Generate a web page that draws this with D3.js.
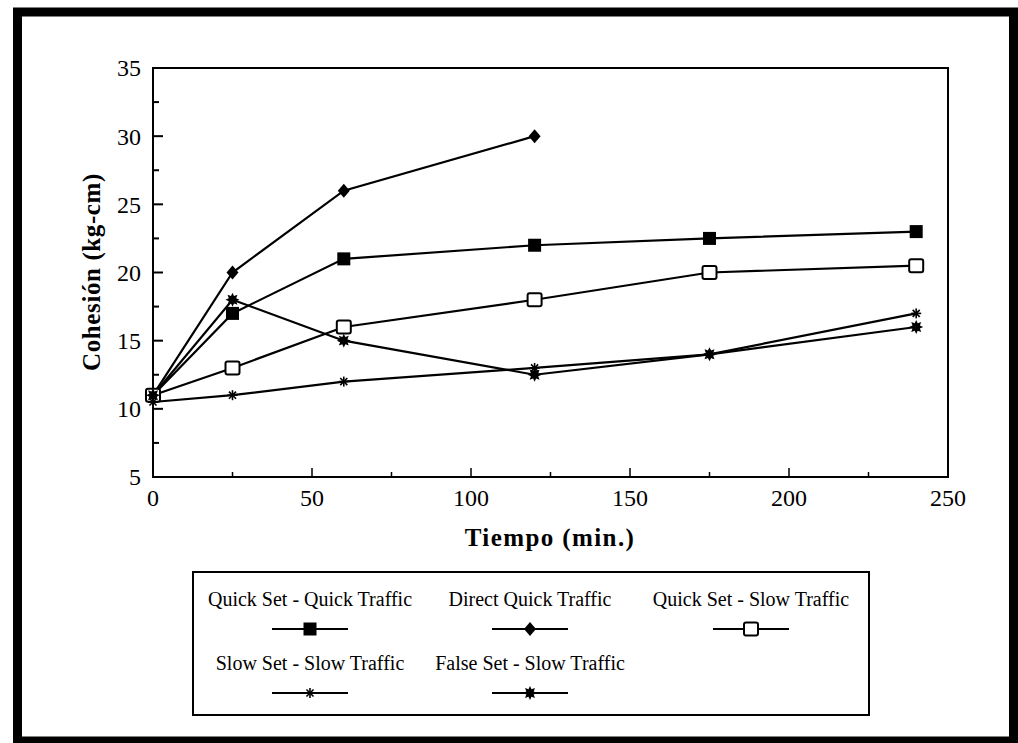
<!DOCTYPE html>
<html><head><meta charset="utf-8">
<script src="https://cdn.jsdelivr.net/npm/d3@7"></script>
<style>body{margin:0;background:#fff}svg{display:block}</style>
</head><body>
<svg id="c" width="1018" height="743"></svg>
<script>
const times = [0, 25, 60, 120, 175, 240];
const quickQuick = [11, 17, 21, 22, 22.5, 23];
const directQuick = [11, 20, 26, 30];
const quickSlow = [11, 13, 16, 18, 20, 20.5];
const slowSlow = [10.5, 11, 12, 13, 14, 17];
const falseSlow = [11, 18, 15, 12.5, 14, 16];
const seriesNames = ["Quick Set - Quick Traffic", "Direct Quick Traffic", "Quick Set -  Slow Traffic", "Slow Set - Slow Traffic", "False Set - Slow Traffic"];
const markerTypes = ["fsquare", "diamond", "osquare", "asterisk", "burst"];
const xTicks = [0, 50, 100, 150, 200, 250];
const yTicks = [5, 10, 15, 20, 25, 30, 35];

const series = [quickQuick, directQuick, quickSlow, slowSlow, falseSlow].map((v, i) => ({
  name: seriesNames[i], marker: markerTypes[i],
  pts: v.map((y, j) => ({x: times[j], y}))
}));

const svg = d3.select("#c");
const FONT = "'Liberation Serif', 'DejaVu Serif', serif";
// outer border
svg.append("rect").attr("x", 17.5).attr("y", 12).attr("width", 996).attr("height", 729)
  .attr("fill", "none").attr("stroke", "#000").attr("stroke-width", 9);

const L = 153, R = 948, T = 68, B = 477;
const x = d3.scaleLinear().domain([0, 250]).range([L, R]);
const y = d3.scaleLinear().domain([5, 35]).range([B, T]);

// plot frame
svg.append("rect").attr("x", L).attr("y", T).attr("width", R - L).attr("height", B - T)
  .attr("fill", "none").attr("stroke", "#000").attr("stroke-width", 2);

// ticks (inward)
const g = svg.append("g");
d3.range(5, 35.01, 2.5).forEach(v => {
  const major = v % 5 === 0;
  g.append("line").attr("x1", L).attr("x2", L + (major ? 10 : 6)).attr("y1", y(v)).attr("y2", y(v))
    .attr("stroke", "#000").attr("stroke-width", 2);
});
d3.range(0, 250.01, 25).forEach(v => {
  const major = v % 50 === 0;
  g.append("line").attr("x1", x(v)).attr("x2", x(v)).attr("y1", B).attr("y2", B - (major ? 9 : 5))
    .attr("stroke", "#000").attr("stroke-width", 1.5);
});
g.selectAll(".yt").data(yTicks).enter().append("text")
  .attr("x", L - 12).attr("y", d => y(d)).attr("dy", "0.35em").attr("text-anchor", "end")
  .attr("font-family", FONT).attr("font-size", 24).text(d => d);
g.selectAll(".xt").data(xTicks).enter().append("text")
  .attr("x", d => x(d)).attr("y", 506).attr("text-anchor", "middle")
  .attr("font-family", FONT).attr("font-size", 24).text(d => d);

svg.append("text").attr("transform", "translate(100,272) rotate(-90)").attr("text-anchor", "middle")
  .attr("font-family", FONT).attr("font-size", 25).attr("font-weight", "bold")
  .attr("letter-spacing", 0.6).text("Cohesión (kg-cm)");
svg.append("text").attr("x", 550).attr("y", 546).attr("text-anchor", "middle")
  .attr("font-family", FONT).attr("font-size", 25).attr("font-weight", "bold")
  .attr("letter-spacing", 1.4).text("Tiempo (min.)");

function drawMarker(sel, type, cx, cy) {
  const m = sel.append("g").attr("transform", `translate(${cx},${cy})`);
  if (type === "fsquare") m.append("rect").attr("x", -6.5).attr("y", -6.5).attr("width", 13).attr("height", 13).attr("fill", "#000");
  else if (type === "diamond") m.append("path").attr("d", "M0,-7L6,0L0,7L-6,0Z").attr("fill", "#000");
  else if (type === "osquare") m.append("rect").attr("x", -7).attr("y", -6.5).attr("width", 14).attr("height", 13).attr("rx", 2)
    .attr("fill", "#fff").attr("stroke", "#000").attr("stroke-width", 2);
  else if (type === "asterisk") {
    [0, 45, 90, 135].forEach(a => m.append("line").attr("x1", -5).attr("x2", 5).attr("y1", 0).attr("y2", 0)
      .attr("transform", `rotate(${a})`).attr("stroke", "#000").attr("stroke-width", 1.6));
  } else if (type === "burst") {
    const pts = d3.range(16).map(i => { const r = i % 2 ? 4 : 7; const a = i * Math.PI / 8; return [r * Math.cos(a), r * Math.sin(a)]; });
    m.append("path").attr("d", d3.line()(pts) + "Z").attr("fill", "#000");
  }
}

const line = d3.line().x(d => x(d.x)).y(d => y(d.y));
series.forEach(s => {
  svg.append("path").attr("d", line(s.pts)).attr("fill", "none").attr("stroke", "#000").attr("stroke-width", 2.2);
});
series.forEach(s => {
  s.pts.forEach(p => drawMarker(svg, s.marker, x(p.x), y(p.y)));
});

// legend
svg.append("rect").attr("x", 193).attr("y", 572).attr("width", 676).attr("height", 143)
  .attr("fill", "#fff").attr("stroke", "#000").attr("stroke-width", 2);
const legPos = [[310, 0], [530, 0], [751, 0], [310, 1], [530, 1]];
series.forEach((s, i) => {
  const [cx, row] = legPos[i];
  const ty = 606 + row * 64, my = 629 + row * 64;
  svg.append("text").attr("x", cx).attr("y", ty).attr("text-anchor", "middle")
    .attr("font-family", FONT).attr("font-size", 20).text(s.name);
  svg.append("line").attr("x1", cx - 38).attr("x2", cx + 38).attr("y1", my).attr("y2", my)
    .attr("stroke", "#000").attr("stroke-width", 2);
  drawMarker(svg, s.marker, cx, my);
});
</script>
</body></html>
